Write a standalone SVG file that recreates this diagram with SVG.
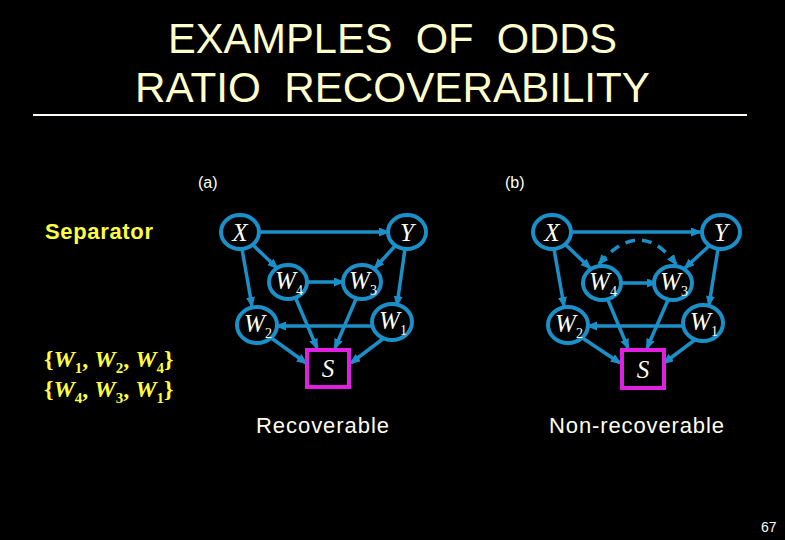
<svg xmlns="http://www.w3.org/2000/svg" width="785" height="540" viewBox="0 0 785 540">
<style>
.title{font-family:"Liberation Sans",Arial,sans-serif;font-size:42px;fill:#FFFFCC;white-space:pre}
.lbl{font-family:"Liberation Sans",Arial,sans-serif;fill:#FFFFEE}
.node ellipse{fill:#000;stroke:#1A8FC8;stroke-width:4}
.node rect{fill:#000;stroke:#E020E0;stroke-width:4}
.nt{font-family:"Liberation Serif","Times New Roman",serif;font-style:italic;font-size:25px;fill:#FFFFF0;text-anchor:middle}
.sub{font-size:14px;font-style:normal}
.edge{stroke:#1A8FC8;stroke-width:3.5;fill:none;marker-end:url(#ah)}
.dash{stroke:#1A8FC8;stroke-width:3.5;fill:none;stroke-dasharray:10 7;marker-end:url(#ah);marker-start:url(#ahs)}
.sep{font-family:"Liberation Serif","Times New Roman",serif;font-weight:bold;font-size:24px;fill:#FFFF40}
.ss{font-size:15px}
</style>
<defs>
<marker id="ah" markerUnits="userSpaceOnUse" markerWidth="12" markerHeight="10" refX="9" refY="4.5" orient="auto"><path d="M0,0 L11,4.5 L0,9 z" fill="#1A8FC8"/></marker>
<marker id="ahs" markerUnits="userSpaceOnUse" markerWidth="12" markerHeight="10" refX="2" refY="4.5" orient="auto"><path d="M11,0 L0,4.5 L11,9 z" fill="#1A8FC8"/></marker>
</defs>
<rect width="785" height="540" fill="#000"/>
<g id="title">
<text class="title" x="168" y="53" textLength="449" lengthAdjust="spacingAndGlyphs">EXAMPLES  OF  ODDS</text>
<text class="title" x="135" y="102" textLength="515" lengthAdjust="spacingAndGlyphs">RATIO  RECOVERABILITY</text>
<line x1="33" y1="115" x2="747" y2="115" stroke="#FFFFEE" stroke-width="2"/>
</g>
<g id="labels">
<text class="lbl" x="198" y="188" font-size="16">(a)</text>
<text class="lbl" x="505" y="188" font-size="16">(b)</text>
<text class="lbl" x="256" y="433" font-size="22" textLength="133">Recoverable</text>
<text class="lbl" x="549" y="433" font-size="22" textLength="175">Non-recoverable</text>
<text class="lbl" x="761" y="532" font-size="14">67</text>
<text x="45" y="239" font-family="Liberation Sans,Arial,sans-serif" font-weight="bold" font-size="22" fill="#FFFF40" textLength="108">Separator</text>
<text class="sep" x="44" y="367">{<tspan font-style="italic">W</tspan><tspan class="ss" dy="6">1</tspan><tspan dy="-6">, </tspan><tspan font-style="italic">W</tspan><tspan class="ss" dy="6">2</tspan><tspan dy="-6">, </tspan><tspan font-style="italic">W</tspan><tspan class="ss" dy="6">4</tspan><tspan dy="-6">}</tspan></text>
<text class="sep" x="44" y="397">{<tspan font-style="italic">W</tspan><tspan class="ss" dy="6">4</tspan><tspan dy="-6">, </tspan><tspan font-style="italic">W</tspan><tspan class="ss" dy="6">3</tspan><tspan dy="-6">, </tspan><tspan font-style="italic">W</tspan><tspan class="ss" dy="6">1</tspan><tspan dy="-6">}</tspan></text>
</g>
<g id="connectors">
<path class="edge" d="M259,232 L388,232"/>
<path class="edge" d="M253,245 L277,268"/>
<path class="edge" d="M242,249 L252,306"/>
<path class="edge" d="M395,246 L375,268"/>
<path class="edge" d="M405,249 L397,305"/>
<path class="edge" d="M308,282 L343,282"/>
<path class="edge" d="M373,326 L277,326"/>
<path class="edge" d="M296,299 L317,348"/>
<path class="edge" d="M356,299 L335,348"/>
<path class="edge" d="M270,337 L306,363"/>
<path class="edge" d="M384,338 L351,363"/>
<path class="edge" d="M571,232 L700,232"/>
<path class="edge" d="M566,245 L590,268"/>
<path class="edge" d="M554,249 L564,306"/>
<path class="edge" d="M709,246 L685,268"/>
<path class="edge" d="M718,249 L709,305"/>
<path class="edge" d="M622,283 L656,283"/>
<path class="edge" d="M684,326 L588,326"/>
<path class="edge" d="M608,300 L628,348"/>
<path class="edge" d="M668,300 L647,348"/>
<path class="edge" d="M581,337 L620,363"/>
<path class="edge" d="M696,339 L664,363"/>
<path class="dash" d="M599,264 Q640,216 676,264"/>
</g>
<g id="a-X" class="node"><ellipse cx="240" cy="232" rx="19" ry="17"/><text class="nt" x="240" y="241">X</text></g>
<g id="a-Y" class="node"><ellipse cx="407" cy="232" rx="19" ry="17"/><text class="nt" x="407" y="241">Y</text></g>
<g id="a-W4" class="node"><ellipse cx="288" cy="282" rx="19" ry="17"/><text class="nt" x="289" y="289">W<tspan class="sub" dy="6">4</tspan></text></g>
<g id="a-W3" class="node"><ellipse cx="362" cy="282" rx="19" ry="17"/><text class="nt" x="363" y="289">W<tspan class="sub" dy="6">3</tspan></text></g>
<g id="a-W2" class="node"><ellipse cx="257" cy="325" rx="20" ry="18"/><text class="nt" x="258" y="332">W<tspan class="sub" dy="6">2</tspan></text></g>
<g id="a-W1" class="node"><ellipse cx="392" cy="322" rx="20" ry="18"/><text class="nt" x="393" y="329">W<tspan class="sub" dy="6">1</tspan></text></g>
<g id="a-S" class="node"><rect x="307" y="350" width="42" height="37"/><text class="nt" x="328" y="377">S</text></g>
<g id="b-X" class="node"><ellipse cx="552" cy="232" rx="19" ry="17"/><text class="nt" x="552" y="241">X</text></g>
<g id="b-Y" class="node"><ellipse cx="721" cy="232" rx="19" ry="17"/><text class="nt" x="721" y="241">Y</text></g>
<g id="b-W4" class="node"><ellipse cx="602" cy="283" rx="19" ry="17"/><text class="nt" x="603" y="290">W<tspan class="sub" dy="6">4</tspan></text></g>
<g id="b-W3" class="node"><ellipse cx="673" cy="283" rx="19" ry="17"/><text class="nt" x="674" y="290">W<tspan class="sub" dy="6">3</tspan></text></g>
<g id="b-W2" class="node"><ellipse cx="568" cy="325" rx="20" ry="18"/><text class="nt" x="569" y="332">W<tspan class="sub" dy="6">2</tspan></text></g>
<g id="b-W1" class="node"><ellipse cx="703" cy="323" rx="20" ry="18"/><text class="nt" x="704" y="330">W<tspan class="sub" dy="6">1</tspan></text></g>
<g id="b-S" class="node"><rect x="622" y="350" width="42" height="38"/><text class="nt" x="643" y="378">S</text></g>
</svg>
